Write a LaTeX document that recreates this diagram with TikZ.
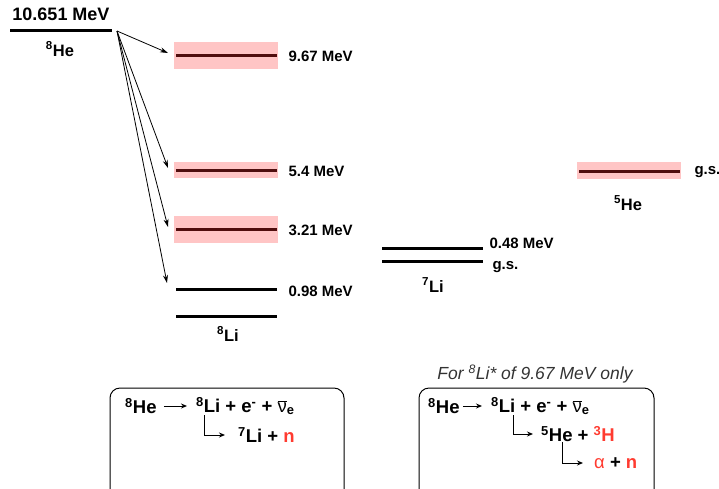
\documentclass[tikz,border=0pt]{standalone}
\usepackage{fontspec}
\setmainfont{Liberation Sans}
\usetikzlibrary{arrows.meta, positioning}
\definecolor{band}{RGB}{255,197,197}
\definecolor{deep}{RGB}{80,14,14}
\definecolor{neut}{RGB}{255,59,48}
\newcommand{\nubar}{$\overline{\hbox{\mdseries ν}}$\textsubscript{e}}

\begin{document}
\begin{tikzpicture}[
    x=1pt, y=-1pt,
    >={Stealth[length=8pt, width=5pt]},
    lvl/.style={line width=3pt},
    exc/.style={line width=3pt, deep},
    lab/.style={font=\bfseries\fontsize{15}{17}\selectfont, anchor=west},
    nuc/.style={font=\bfseries\fontsize{16.5}{18}\selectfont},
    eq/.style={font=\bfseries\fontsize{18.5}{20}\selectfont, anchor=west,
               inner sep=0pt},
    decay/.style={->, line width=0.8pt},
    rx/.style={-{Stealth[length=6pt, width=5pt]}, line width=1pt},
    box/.style={draw, line width=1pt, rounded corners=10pt}
  ]
  \useasboundingbox (0,0) rectangle (719,488);
  \clip (0,0) rectangle (719,488);

  % 8He parent
  \draw[lvl] (10,30) -- (112,30);
  \node[font=\bfseries\fontsize{18}{20}\selectfont] (qval) at (61,14) {10.651 MeV};
  \node[nuc] (he8) at (60,49) {\textsuperscript{8}He};
  \coordinate (src) at (117,31);

  % 8Li excited states (broad)
  \foreach \y/\h/\t/\n in {55/13.5/9.67 MeV/a, 170/8/5.4 MeV/b,
                           229/13.5/3.21 MeV/c} {
    \fill[band] (174,\y-\h) rectangle (278,\y+\h);
    \draw[exc] (176,\y) -- (277,\y);
    \coordinate (in\n) at (168,\y-2);
    \node[lab] (lab\n) at (285,\y+1) {\t};
  }
  \draw[lvl] (176,289) -- (277,289);
  \coordinate (ind) at (167,283);
  \node[lab] (labd) at (285,291) {0.98 MeV};
  \draw[lvl] (176,316) -- (277,316);
  \node[nuc] (li8) at (228,334) {\textsuperscript{8}Li};

  % beta decay branches
  \foreach \n in {a, b, c, d}
    \draw[decay] (src) -- (in\n);

  % 7Li
  \draw[lvl] (382,248) -- (483,248);
  \draw[lvl] (382,261) -- (483,261);
  \node[lab] (lab7a) at (486,243) {0.48 MeV};
  \node[lab] (lab7b) at (489,267) {g.s.};
  \node[nuc] (li7) at (433,285) {\textsuperscript{7}Li};

  % 5He
  \fill[band] (577,162) rectangle (681,179);
  \draw[exc] (579,171) -- (680,171);
  \node[lab] (lab5) at (691,172) {g.s.};
  \node[nuc] (he5) at (628,203) {\textsuperscript{5}He};

  % decay chains
  \draw[box] (110,388) rectangle (344,500);
  \draw[box] (419,388) rectangle (654,500);
  \node[font=\itshape\fontsize{17.5}{19}\selectfont, text=black!80] (note)
    at (535,374) {For \textsuperscript{8}Li* of 9.67 MeV only};

  \node[eq] (p1) at (125,406) {\textsuperscript{8}He};
  \node[eq] (d1) at (196,406) {\textsuperscript{8}Li + e\textsuperscript{-} + \nubar};
  \node[eq] (g1) at (238,435) {\textsuperscript{7}Li + \textcolor{neut}{n}};
  \draw[rx, shorten <=7pt, shorten >=9pt] (p1.east) -- (p1.east -| d1.west);
  \draw[rx, shorten >=13pt] ([xshift=8pt]d1.south west) |- (g1.west);

  \node[eq] (p2) at (428,406) {\textsuperscript{8}He};
  \node[eq] (d2) at (491,406) {\textsuperscript{8}Li + e\textsuperscript{-} + \nubar};
  \node[eq] (g2) at (541,434) {\textsuperscript{5}He + \textcolor{neut}{\textsuperscript{3}H}};
  \node[eq] (f2) at (594,463) {\textcolor{neut}{\mdseries α} + \textcolor{neut}{n}};
  \draw[rx, shorten <=3pt, shorten >=9pt] (p2.east) -- (p2.east -| d2.west);
  \draw[rx, shorten >=8pt] ([xshift=22pt]d2.south west) |- (g2.west);
  \draw[rx, shorten >=11pt] ([xshift=21pt]g2.south west) |- (f2.west);
\end{tikzpicture}
\end{document}
